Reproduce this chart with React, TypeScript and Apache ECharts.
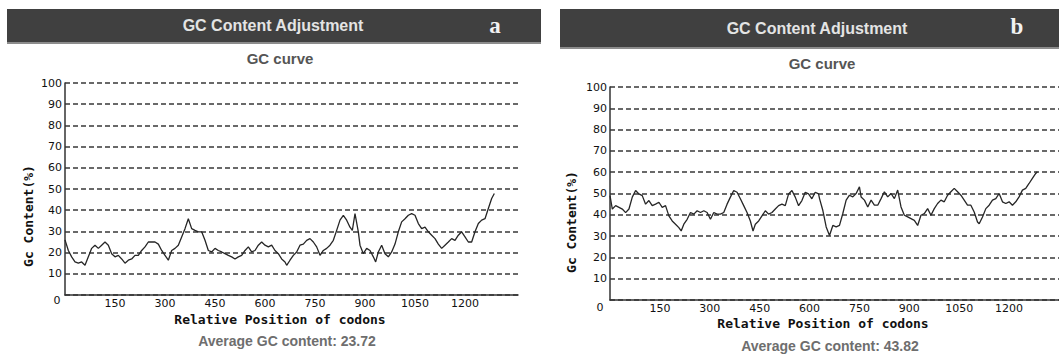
import { useEffect, useRef } from "react";
import * as echarts from "echarts";

// Sliding-window GC content along the coding sequence (codon position, %GC)
const codonsA = [
  0, 10, 20, 30, 40, 50, 60, 70, 80, 90, 100, 110, 120, 130, 140, 150, 160, 170, 180, 190,
  200, 210, 220, 230, 240, 250, 260, 270, 280, 290, 300, 310, 320, 330, 340, 350, 360, 370, 380, 390,
  400, 410, 420, 430, 440, 450, 460, 470, 480, 490, 500, 510, 520, 530, 540, 550, 560, 570, 580, 590,
  600, 610, 620, 630, 640, 650, 660, 665, 675, 685, 695, 705, 715, 725, 735, 745, 755, 765, 775, 785,
  795, 805, 815, 825, 835, 845, 855, 862, 870, 880, 885, 895, 905, 915, 925, 932, 940, 950, 960, 970,
  980, 990, 1000, 1010, 1020, 1030, 1040, 1050, 1060, 1070, 1080, 1090, 1100, 1110, 1120, 1130, 1140, 1150, 1160, 1170,
  1180, 1190, 1200, 1210, 1220, 1230, 1240, 1250, 1260, 1270, 1280, 1288,
];
const gcA = [
  26, 21, 18, 15.6, 15, 15.6, 14, 18, 22, 23.5, 22, 23.5, 25, 23.5, 19.5, 18, 18.7, 17, 15, 16.4,
  17, 18.7, 18.7, 21, 22.7, 25, 25, 25, 24, 21, 18.7, 16.4, 21, 22, 23.5, 27.4, 31.3, 36, 31.3, 30.5,
  29.8, 29.8, 25.8, 21, 20.3, 22, 21, 20.3, 19.5, 18.7, 18, 17, 18, 18.7, 21, 22.7, 20.3, 21, 23.5, 25,
  23.5, 22.7, 23.5, 21, 19.5, 17, 15.6, 14, 16.4, 18.7, 20.3, 23.5, 24, 25.8, 26.6, 25, 22.7, 18.7, 21, 22,
  23.5, 25.8, 30.5, 35.3, 37.6, 35.3, 32, 30.5, 38.4, 29.8, 23.5, 19.5, 22, 21, 18, 15.6, 20.3, 23.5, 19.5, 18,
  20.3, 24, 29.8, 34.5, 36, 37.6, 38.4, 37.6, 33.7, 31.3, 32, 29.8, 28.2, 26.6, 24, 22, 23.5, 25, 26.6, 25.8,
  28.2, 29.8, 27.4, 25, 25, 29.8, 33.7, 35.3, 36, 40.8, 45.5, 47.9,
];

const codonsB = [
  0, 7, 17, 27, 37, 47, 57, 67, 77, 87, 97, 107, 117, 127, 137, 147, 157, 167, 177, 187,
  197, 207, 214, 222, 232, 242, 252, 262, 272, 282, 292, 302, 312, 322, 332, 342, 352, 362, 372, 382,
  392, 402, 412, 422, 430, 437, 447, 457, 467, 477, 487, 497, 507, 517, 527, 537, 547, 557, 567, 577,
  587, 597, 607, 617, 627, 630, 640, 650, 660, 670, 680, 690, 700, 710, 720, 730, 740, 750, 755, 765,
  775, 785, 795, 805, 815, 825, 835, 845, 855, 865, 875, 885, 895, 905, 915, 925, 935, 945, 955, 965,
  975, 985, 995, 1005, 1015, 1025, 1035, 1045, 1055, 1065, 1075, 1085, 1095, 1105, 1110, 1120, 1130, 1140, 1150, 1160,
  1170, 1180, 1190, 1200, 1210, 1220, 1230, 1240, 1250, 1260, 1270, 1280, 1285,
];
const gcB = [
  49, 42.7, 44.3, 43.5, 42.7, 41, 42.7, 48.3, 51.4, 49.8, 49, 45, 46.7, 44.3, 45, 45.9, 43.5, 44.3, 39.5, 37.1,
  35.6, 34, 32.4, 35.6, 37.9, 41.1, 40.3, 41.9, 41.1, 41.9, 41.1, 37.9, 41.1, 40.3, 40.3, 41.1, 45, 48.3, 51.4, 50.6,
  47.5, 44.3, 41.1, 37.1, 32.4, 35.6, 37.1, 39.5, 41.9, 40.3, 41.1, 42.7, 44.3, 45, 44.3, 49.8, 51.4, 48.3, 44.3, 46.7,
  50.6, 49.8, 47.5, 50.6, 49.8, 47.6, 42, 34.3, 30.3, 35, 34.3, 35, 40.6, 46.9, 49.2, 48.4, 50, 53.1, 48.4, 46.9,
  43.7, 46.9, 44.5, 44.5, 47.6, 50.8, 48.4, 50, 47.6, 51.6, 43.7, 39.8, 39, 38.2, 37.4, 35, 39.8, 40.6, 42.9, 39.8,
  42.9, 45.3, 46.9, 46.1, 49.2, 50.8, 52.4, 50.8, 49.2, 46.9, 44.5, 44.5, 41.3, 36.6, 35.8, 39, 42.9, 44.5, 46.9, 47.6,
  50, 46.1, 45.3, 46.1, 44.5, 46.1, 48.4, 51.6, 52.4, 54.7, 57.1, 59.4, 60.2,
];

const panelLetters = ["a", "b"];
const averageGC = ["23.72", "43.82"];
const headerTitle = "GC Content Adjustment";
const plotTitle = "GC curve";
const xAxisName = "Relative Position of codons";
const yAxisName = "Gc Content(%)";
const originLabel = "0";

const MONO = "'DejaVu Sans Mono', 'Liberation Mono', monospace";
const SANS = "'Liberation Sans', Arial, Helvetica, sans-serif";
const LABEL = "'DejaVu Sans', Verdana, sans-serif";
const SERIF = "'Liberation Serif', 'DejaVu Serif', serif";

// Pixel layout of the two side-by-side panels
const panels = [
  {
    grid: { left: 65, top: 83, width: 453, height: 212 },
    xMax: 1359,
    bar: { x: 7, y: 9, w: 534, h: 34 },
    headerX: 273, headerY: 25, letterX: 495, letterY: 37,
    titleX: 280, titleY: 58,
    xNameX: 280, xNameY: 319,
    yNameX: 28, yNameY: 216,
    avgX: 287, avgY: 341,
    zeroX: 57, zeroY: 300,
  },
  {
    grid: { left: 610, top: 87, width: 450, height: 213 },
    xMax: 1350,
    bar: { x: 560, y: 9, w: 499, h: 39 },
    headerX: 817, headerY: 28, letterX: 1017, letterY: 38,
    titleX: 822, titleY: 63,
    xNameX: 823, xNameY: 323,
    yNameX: 571, yNameY: 222,
    avgX: 830, avgY: 346,
    zeroX: 600, zeroY: 307,
  },
];

const seriesData = [
  codonsA.map((c, i) => [c, gcA[i]]),
  codonsB.map((c, i) => [c, gcB[i]]),
];

export default function App() {
  const ref = useRef<HTMLDivElement>(null);

  useEffect(() => {
    if (!ref.current) return;
    const chart = echarts.init(ref.current, null, { renderer: "svg" });

    const graphic: any[] = [];
    panels.forEach((p, i) => {
      graphic.push(
        { type: "rect", shape: { x: p.bar.x, y: p.bar.y, width: p.bar.w, height: p.bar.h }, style: { fill: "#404040" } },
        { type: "rect", shape: { x: p.bar.x, y: p.bar.y + p.bar.h - 1, width: p.bar.w, height: 2 }, style: { fill: "#8c8c8c" } },
        {
          type: "text", x: p.headerX, y: p.headerY,
          style: { text: headerTitle, fill: "#e4e4e4", font: `bold 16px ${SANS}`, textAlign: "center", textVerticalAlign: "middle" },
        },
        {
          type: "text", x: p.letterX, y: p.letterY,
          style: { text: panelLetters[i], fill: "#f2f2f2", font: `bold 23px ${SERIF}`, textAlign: "center", textVerticalAlign: "bottom" },
        },
        {
          type: "text", x: p.titleX, y: p.titleY,
          style: { text: plotTitle, fill: "#555555", font: `bold 15px ${SANS}`, textAlign: "center", textVerticalAlign: "middle" },
        },
        {
          type: "text", x: p.xNameX, y: p.xNameY,
          style: { text: xAxisName, fill: "#111111", font: `bold 13px ${MONO}`, textAlign: "center", textVerticalAlign: "middle" },
        },
        {
          type: "text", x: p.yNameX, y: p.yNameY, rotation: Math.PI / 2,
          style: { text: yAxisName, fill: "#111111", font: `bold 13px ${MONO}`, textAlign: "center", textVerticalAlign: "middle" },
        },
        {
          type: "text", x: p.avgX, y: p.avgY,
          style: { text: `Average GC content: ${averageGC[i]}`, fill: "#6e6e6e", font: `bold 14px ${SANS}`, textAlign: "center", textVerticalAlign: "middle" },
        },
        {
          type: "text", x: p.zeroX, y: p.zeroY,
          style: { text: originLabel, fill: "#111111", font: `11px ${LABEL}`, textAlign: "center", textVerticalAlign: "middle" },
        }
      );
    });

    chart.setOption({
      animation: false,
      backgroundColor: "#ffffff",
      grid: panels.map((p) => ({ ...p.grid, containLabel: false })),
      xAxis: panels.map((p, i) => ({
        gridIndex: i,
        type: "value",
        min: 0,
        max: p.xMax,
        interval: 150,
        axisLine: { lineStyle: { color: "#333333", width: 1.5 } },
        axisTick: { show: false },
        splitLine: { show: false },
        axisLabel: {
          margin: 3,
          fontFamily: LABEL,
          fontSize: 11,
          color: "#111111",
          showMaxLabel: false,
          formatter: (v: number) => (v > 0 && v <= 1200 && v % 150 === 0 ? String(v) : ""),
        },
      })),
      yAxis: panels.map((_, i) => ({
        gridIndex: i,
        type: "value",
        min: 0,
        max: 100,
        interval: 10,
        axisLine: { show: true, lineStyle: { color: "#333333", width: 1.5 } },
        axisTick: { show: false },
        splitLine: { lineStyle: { type: [5, 3], color: "#383838", width: 1.6 } },
        axisLabel: {
          margin: 3,
          fontFamily: LABEL,
          fontSize: 11,
          color: "#111111",
          formatter: (v: number) => (v === 0 ? "" : String(v)),
        },
      })),
      series: seriesData.map((d, i) => ({
        type: "line",
        xAxisIndex: i,
        yAxisIndex: i,
        data: d,
        symbol: "none",
        lineStyle: { color: "#262626", width: 1.3 },
      })),
      graphic,
    });

    return () => chart.dispose();
  }, []);

  return (
    <div
      ref={ref}
      style={{ position: "fixed", left: 0, top: 0, width: 1059, height: 356, background: "#ffffff" }}
    />
  );
}
